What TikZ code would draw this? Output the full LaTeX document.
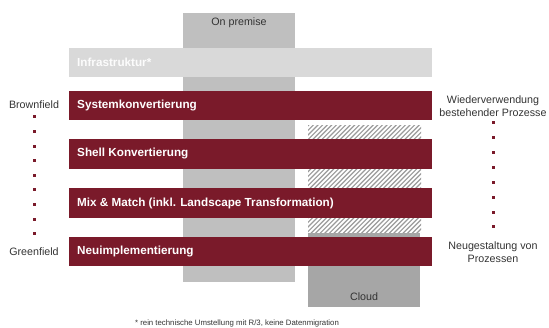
\documentclass[tikz,border=0pt]{standalone}
\usepackage{fontspec}
\setmainfont{Liberation Sans}
\definecolor{bordo}{HTML}{7A1A2A}
\definecolor{infra}{HTML}{D9D9D9}
\definecolor{onprem}{HTML}{BFBFBF}
\definecolor{cloudc}{HTML}{A6A6A6}
\definecolor{hatchc}{HTML}{9A9A9A}
\definecolor{txtc}{HTML}{333333}
\begin{document}
\begin{tikzpicture}[x=1pt,y=-1pt,
  bar/.style={fill=bordo,draw=none},
  bartext/.style={anchor=west,text=white,font=\fontsize{11.7}{13}\selectfont\bfseries,inner sep=0pt},
  lbl/.style={text=txtc,font=\fontsize{10.7}{12.5}\selectfont,inner sep=0pt,align=center},
  sqdot/.style={fill=bordo,draw=none,minimum size=3pt,inner sep=0pt,rectangle}
]
\useasboundingbox (0,0) rectangle (549,328);
% columns
\fill[onprem] (183,13) rectangle (295,282);
\node[lbl] (onp) at (239,23) {On premise};
% hatched area
\begin{scope}
\clip (308,126) rectangle (421,233);
\foreach \i in {0,...,55} {
  \draw[hatchc,line width=1.2pt] (180+\i*4.6,240) -- (180+\i*4.6+120,120);
}
\end{scope}
\fill[cloudc] (308,233) rectangle (420,307);
\node[lbl] (cld) at (364,297) {Cloud};
% bars
\fill[infra] (69,48) rectangle (432,77);
\node[bartext,text=white!92!infra] (infrat) at (77,62.5) {Infrastruktur*};
\fill[bar] (69,91) rectangle (432,120);
\node[bartext] (sys) at (77,105.5) {Systemkonvertierung};
\fill[bar] (69,139) rectangle (432,169);
\node[bartext] (shell) at (77,154) {Shell Konvertierung};
\fill[bar] (69,188) rectangle (432,218);
\node[bartext] (mix) at (77,203) {Mix \& Match (inkl. Landscape Transformation)};
\fill[bar] (69,237) rectangle (432,266);
\node[bartext] (neu) at (77,251.5) {Neuimplementierung};
% left scale
\node[lbl] (brown) at (34,105) {Brownfield};
\node[lbl] (green) at (34,252) {Greenfield};
\foreach \k in {0,...,8} {
  \node[sqdot] (ld\k) at (34,117+\k*14.6) {};
}
% right scale
\node[lbl] (reuse) at (493,106) {Wiederverwendung\\bestehender Prozesse};
\node[lbl] (redes) at (493,252) {Neugestaltung von\\Prozessen};
\foreach \k in {0,...,7} {
  \node[sqdot] (rd\k) at (493,123+\k*14.85) {};
}
% footnote
\node[text=txtc,font=\fontsize{7.8}{8.5}\selectfont,inner sep=0pt] (fn) at (237,323.5) {* rein technische Umstellung mit R/3, keine Datenmigration};
\end{tikzpicture}
\end{document}
